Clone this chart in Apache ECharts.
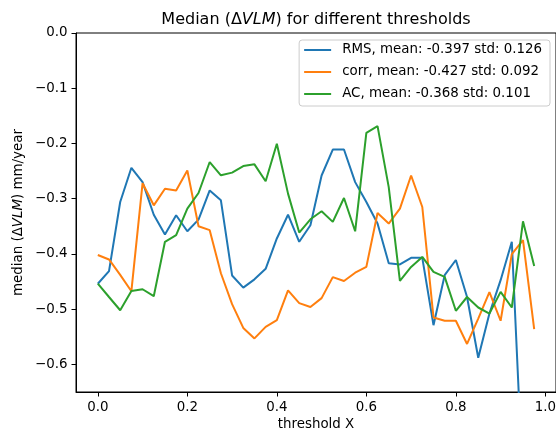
<!DOCTYPE html>
<html>
<head>
<meta charset="utf-8">
<script src="https://cdn.jsdelivr.net/npm/echarts@6/dist/echarts.min.js"></script>
<style>
html,body{margin:0;padding:0;background:#fff;}
#chart{width:556px;height:430px;}
</style>
</head>
<body>
<div id="chart"></div>
<script>
var thresholds = [0, 0.025, 0.05, 0.075, 0.1, 0.125, 0.15, 0.175, 0.2, 0.225,
  0.25, 0.275, 0.3, 0.325, 0.35, 0.375, 0.4, 0.425, 0.45, 0.475,
  0.5, 0.525, 0.55, 0.575, 0.6, 0.625, 0.65, 0.675, 0.7, 0.725,
  0.75, 0.775, 0.8, 0.825, 0.85, 0.875, 0.9, 0.925, 0.95, 0.975];

var rmsValues = [-0.454, -0.431, -0.306, -0.244, -0.270, -0.329, -0.365, -0.330, -0.359, -0.338,
  -0.285, -0.303, -0.439, -0.461, -0.446, -0.427, -0.372, -0.329, -0.378, -0.348,
  -0.258, -0.211, -0.211, -0.270, -0.306, -0.345, -0.417, -0.419, -0.407, -0.407,
  -0.529, -0.4385, -0.411, -0.478, -0.588, -0.508, -0.4475, -0.378, -0.82, -0.81];

var corrValues = [-0.402, -0.410, -0.438, -0.4675, -0.272, -0.312, -0.282, -0.285, -0.249, -0.350,
  -0.357, -0.435, -0.491, -0.534, -0.553, -0.532, -0.520, -0.466, -0.489, -0.496,
  -0.480, -0.442, -0.449, -0.434, -0.4235, -0.326, -0.345, -0.318, -0.258, -0.315,
  -0.515, -0.521, -0.521, -0.563, -0.517, -0.469, -0.521, -0.4005, -0.375, -0.536];

var acValues = [-0.4536, -0.478, -0.502, -0.467, -0.464, -0.4765, -0.378, -0.366, -0.318, -0.2897,
  -0.2336, -0.2577, -0.2528, -0.241, -0.2378, -0.2685, -0.2004, -0.2908, -0.3613, -0.3373,
  -0.3228, -0.342, -0.2987, -0.359, -0.181, -0.1685, -0.279, -0.449, -0.4235, -0.4054,
  -0.4325, -0.4415, -0.503, -0.478, -0.497, -0.508, -0.4687, -0.497, -0.341, -0.422];

var seriesNames = ['RMS, mean: -0.397 std: 0.126', 'corr, mean: -0.427 std: 0.092', 'AC, mean: -0.368 std: 0.101'];
var xTicks = [0, 0.2, 0.4, 0.6, 0.8, 1.0];
var yTicks = [0, -0.1, -0.2, -0.3, -0.4, -0.5, -0.6];

var colors = ['#1f77b4', '#ff7f0e', '#2ca02c'];
var FONT = 'DejaVu Sans';
var FS = 13.4;

function pairs(vals) {
  return thresholds.map(function (t, i) { return [t, vals[i]]; });
}

var chart = echarts.init(document.getElementById('chart'), null, {renderer: 'canvas'});
var allVals = [rmsValues, corrValues, acValues];

chart.setOption({
  animation: false,
  backgroundColor: '#ffffff',
  textStyle: {fontFamily: FONT},
  graphic: [{
    type: 'text',
    x: 316, y: 20,
    style: {
      text: '{a|Median (Δ}{b|VLM}{a|) for different thresholds}',
      align: 'center', verticalAlign: 'middle',
      rich: {
        a: {fontFamily: FONT, fontSize: 16, fill: '#000', color: '#000'},
        b: {fontFamily: FONT, fontSize: 16, fontStyle: 'italic', fill: '#000', color: '#000'}
      }
    }
  }],
  grid: {
    left: 76, right: 0, top: 33, bottom: 38,
    containLabel: false,
    outerBoundsMode: 'none',
    show: true, borderColor: '#000', borderWidth: 1, backgroundColor: 'transparent'
  },
  legend: {
    orient: 'vertical',
    right: 6, top: 40,
    data: seriesNames,
    icon: 'rect',
    itemWidth: 27, itemHeight: 2,
    itemGap: 6,
    padding: [2, 8, 4, 5],
    backgroundColor: '#ffffff',
    borderColor: '#cccccc',
    borderWidth: 1,
    borderRadius: 3,
    textStyle: {fontFamily: FONT, fontSize: FS, color: '#000', lineHeight: 16, padding: [0, 0, 0, 6]}
  },
  xAxis: {
    type: 'value',
    min: -0.04875, max: 1.02375,
    name: 'threshold X',
    nameLocation: 'middle',
    nameGap: 26.5,
    nameMoveOverlap: false,
    nameTextStyle: {fontFamily: FONT, fontSize: FS, color: '#000'},
    axisLine: {show: true, onZero: false, lineStyle: {color: '#000', width: 1}},
    axisTick: {show: true, length: 4.5, lineStyle: {color: '#000', width: 1}, customValues: xTicks},
    axisLabel: {
      fontFamily: FONT, fontSize: FS, color: '#000', margin: 9,
      customValues: xTicks,
      formatter: function (v) { return v.toFixed(1); }
    },
    splitLine: {show: false}
  },
  yAxis: {
    type: 'value',
    min: -0.65, max: 0,
    name: '{a|median (Δ}{b|VLM}{a|) mm/year}',
    nameLocation: 'middle',
    nameGap: 51,
    nameMoveOverlap: false,
    nameTextStyle: {
      fontFamily: FONT, fontSize: FS, color: '#000',
      rich: {
        a: {fontFamily: FONT, fontSize: FS, color: '#000'},
        b: {fontFamily: FONT, fontSize: FS, color: '#000', fontStyle: 'italic'}
      }
    },
    axisLine: {show: true, onZero: false, lineStyle: {color: '#000', width: 1}},
    axisTick: {show: true, length: 4.5, lineStyle: {color: '#000', width: 1}, customValues: yTicks},
    axisLabel: {
      fontFamily: FONT, fontSize: FS, color: '#000', margin: 8.5,
      customValues: yTicks,
      formatter: function (v) {
        if (Math.abs(v) < 1e-9) return '0.0';
        return (v < 0 ? '\u2212' : '') + Math.abs(v).toFixed(1);
      }
    },
    splitLine: {show: false}
  },
  series: seriesNames.map(function (name, k) {
    return {
      name: name,
      type: 'line',
      data: pairs(allVals[k]),
      symbol: 'none',
      clip: true,
      color: colors[k],
      lineStyle: {color: colors[k], width: 2},
      itemStyle: {color: colors[k]}
    };
  })
});
</script>
</body>
</html>
